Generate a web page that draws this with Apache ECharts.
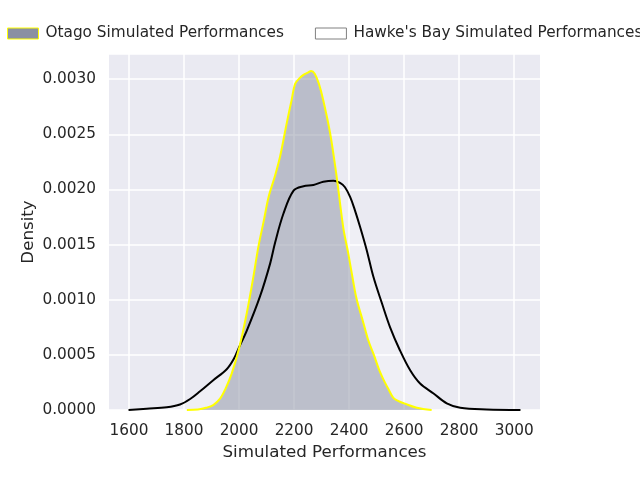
<!DOCTYPE html>
<html>
<head>
<meta charset="utf-8">
<script src="https://cdn.jsdelivr.net/npm/echarts@6/dist/echarts.min.js"></script>
<style>
  html, body { margin: 0; padding: 0; background: #ffffff; }
  #chart { width: 640px; height: 480px; }
</style>
</head>
<body>
<div id="chart"></div>
<script>
// KDE curves
const otagoX = [1810, 1850, 1880, 1906, 1930, 1950, 1973, 2001, 2028, 2052, 2070, 2090, 2107, 2130, 2149, 2173, 2190, 2204, 2220, 2234, 2250, 2262, 2275, 2290, 2306, 2331, 2355, 2379, 2397, 2416, 2428, 2452, 2470, 2490, 2510, 2530, 2545, 2561, 2580, 2600, 2646, 2700];
const otagoY = [0, 0.000005, 0.00002, 0.000045, 0.0001, 0.00019, 0.00033, 0.00057, 0.00088, 0.00121, 0.00148, 0.00172, 0.00193, 0.00212, 0.0023, 0.0026, 0.0028, 0.00296, 0.00301, 0.00304, 0.00306, 0.003075, 0.00305, 0.00296, 0.00281, 0.00251, 0.00211, 0.00165, 0.00142, 0.00115, 0.001, 0.00079, 0.00063, 0.0005, 0.00036, 0.00025, 0.00018, 0.00011, 0.00008, 0.00006, 0.00002, 0];

const hawkesX = [1598, 1664, 1737, 1785, 1822, 1858, 1906, 1955, 1980, 2000, 2028, 2076, 2113, 2131, 2161, 2198, 2234, 2270, 2306, 2343, 2367, 2385, 2404, 2420, 2440, 2464, 2488, 2519, 2549, 2585, 2622, 2658, 2707, 2755, 2804, 2900, 3023];
const hawkesY = [0, 0.000012, 0.000025, 0.00005, 0.0001, 0.00017, 0.00027, 0.00037, 0.00046, 0.00057, 0.00072, 0.00103, 0.00133, 0.00152, 0.00178, 0.00199, 0.00203, 0.00204, 0.00207, 0.00208, 0.00206, 0.00202, 0.00193, 0.00182, 0.00166, 0.00145, 0.00121, 0.00097, 0.00075, 0.00054, 0.00036, 0.00024, 0.00015, 0.00006, 0.00002, 0.000005, 0];

const xTicks = [1600, 1800, 2000, 2200, 2400, 2600, 2800, 3000];

const otagoName = 'Otago Simulated Performances';
const hawkesName = "Hawke's Bay Simulated Performances";

const zip = (xs, ys) => xs.map((x, i) => [x, ys[i]]);
const otago = zip(otagoX, otagoY);
const hawkes = zip(hawkesX, hawkesY);

const font = 'DejaVu Sans';
const ink = '#262626';
const smooth = 0.35;

const chart = echarts.init(document.getElementById('chart'));

chart.setOption({
  backgroundColor: '#ffffff',
  animation: false,
  textStyle: { fontFamily: font, color: ink },
  legend: {
    left: 2,
    top: 21,
    width: 900,
    itemWidth: 31,
    itemHeight: 11,
    itemGap: 31,
    textStyle: { fontSize: 15.3, color: ink, fontFamily: font, padding: [0, 0, 0, 2] },
    data: [
      { name: otagoName, icon: 'rect', itemStyle: { color: '#8a90a2', borderColor: '#ffff00', borderWidth: 1 } },
      { name: hawkesName, icon: 'rect', itemStyle: { color: '#ffffff', borderColor: '#808080', borderWidth: 1 } }
    ]
  },
  grid: { left: 109, right: 100, top: 54, bottom: 70, show: true, backgroundColor: '#eaeaf2', borderWidth: 0 },
  xAxis: {
    type: 'value',
    min: 1527,
    max: 3094,
    name: 'Simulated Performances',
    nameLocation: 'middle',
    nameGap: 34,
    nameTextStyle: { fontSize: 16.7, color: ink },
    axisLine: { show: false },
    axisTick: { show: false, customValues: xTicks },
    axisLabel: { customValues: xTicks, fontSize: 15.3, color: ink, margin: 14, formatter: v => String(v) },
    splitLine: { show: true, lineStyle: { color: '#ffffff', width: 1.5 } }
  },
  yAxis: {
    type: 'value',
    min: 0,
    max: 0.003229,
    interval: 0.0005,
    name: 'Density',
    nameLocation: 'middle',
    nameGap: 72,
    nameMoveOverlap: false,
    nameTextStyle: { fontSize: 16.7, color: ink },
    axisLine: { show: false },
    axisTick: { show: false },
    axisLabel: {
      fontSize: 15.3, color: ink, margin: 13,
      formatter: v => (v > 0.00301 ? '' : v.toFixed(4))
    },
    splitLine: { show: true, lineStyle: { color: '#ffffff', width: 1.5 } }
  },
  series: [
    {
      name: hawkesName, type: 'line', data: hawkes, smooth: smooth,
      showSymbol: false, lineStyle: { width: 0 },
      areaStyle: { color: '#ffffff', opacity: 0.25 }, z: 2
    },
    {
      name: otagoName, type: 'line', data: otago, smooth: smooth,
      showSymbol: false, lineStyle: { width: 0 },
      areaStyle: { color: '#8a90a2', opacity: 0.5 }, z: 3
    },
    {
      name: hawkesName, type: 'line', data: hawkes, smooth: smooth,
      showSymbol: false, lineStyle: { color: '#000000', width: 2 }, itemStyle: { color: '#000000' }, z: 4
    },
    {
      name: otagoName, type: 'line', data: otago, smooth: smooth,
      showSymbol: false, lineStyle: { color: '#ffff00', width: 2 }, itemStyle: { color: '#ffff00' }, z: 5
    }
  ]
});
</script>
</body>
</html>
